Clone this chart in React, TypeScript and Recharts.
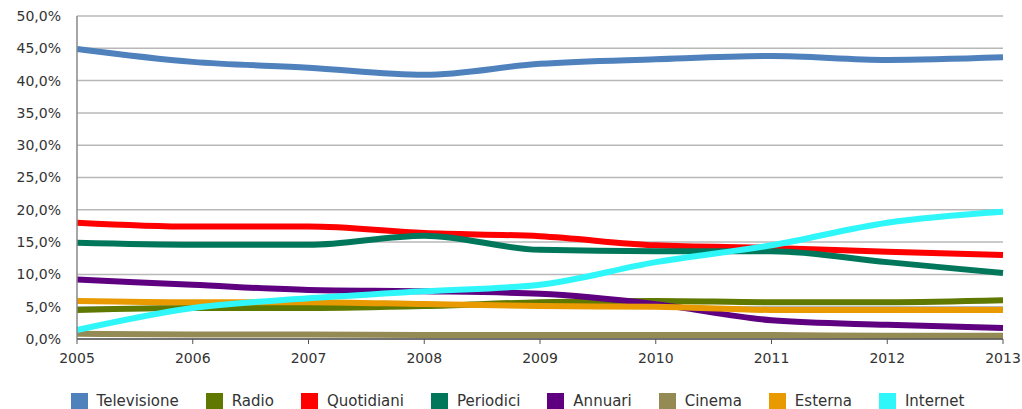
import { LineChart, Line, XAxis, YAxis, CartesianGrid, Legend } from 'recharts';

const years = ['2005', '2006', '2007', '2008', '2009', '2010', '2011', '2012', '2013'];

const televisione = [44.9, 42.9, 42.0, 40.9, 42.6, 43.3, 43.8, 43.2, 43.6];
const radio = [4.5, 4.8, 4.8, 5.1, 5.7, 5.9, 5.7, 5.7, 6.0];
const quotidiani = [18.0, 17.4, 17.4, 16.4, 15.9, 14.5, 14.1, 13.5, 13.0];
const periodici = [14.9, 14.6, 14.6, 16.0, 13.8, 13.6, 13.6, 11.9, 10.2];
const annuari = [9.2, 8.4, 7.6, 7.4, 7.0, 5.4, 2.9, 2.2, 1.7];
const cinema = [0.8, 0.7, 0.7, 0.6, 0.6, 0.6, 0.6, 0.5, 0.5];
const esterna = [5.9, 5.7, 5.7, 5.4, 5.1, 5.0, 4.5, 4.5, 4.5];
const internet = [1.4, 4.8, 6.3, 7.4, 8.4, 11.9, 14.5, 18.0, 19.7];

const yTicks = [0, 5, 10, 15, 20, 25, 30, 35, 40, 45, 50];

const series = [
    { key: 'Televisione', values: televisione, color: '#4F81BD' },
    { key: 'Radio', values: radio, color: '#5F7800' },
    { key: 'Quotidiani', values: quotidiani, color: '#FF0000' },
    { key: 'Periodici', values: periodici, color: '#00775A' },
    { key: 'Annuari', values: annuari, color: '#5E0080' },
    { key: 'Cinema', values: cinema, color: '#948A54' },
    { key: 'Esterna', values: esterna, color: '#E99A00' },
    { key: 'Internet', values: internet, color: '#2FF7F9' },
];

const data = years.map((year, i) => {
    const row: Record<string, string | number> = { year };
    series.forEach((s) => {
        row[s.key] = s.values[i];
    });
    return row;
});

const fmt = (v: number) => `${v.toFixed(1).replace('.', ',')}%`;

function LegendContent() {
    return (
        <div style={{ display: 'flex', justifyContent: 'center', gap: 27, fontSize: 15, color: '#333', paddingLeft: 32, marginTop: 13 }}>
            {series.map((s) => (
                <div key={s.key} style={{ display: 'flex', alignItems: 'center', gap: 9 }}>
                    <span style={{ width: 17, height: 17, background: s.color, display: 'inline-block' }} />
                    <span>{s.key}</span>
                </div>
            ))}
        </div>
    );
}

export default function App() {
    return (
        <div style={{ position: 'absolute', left: 0, top: 0, width: 1022, height: 409, background: '#fff', fontFamily: '"DejaVu Sans", Verdana, sans-serif' }}>
            <LineChart width={1022} height={409} data={data} margin={{ top: 16, right: 19, left: 0, bottom: 0 }}>
                <CartesianGrid vertical={false} stroke="#b8b8b8" strokeWidth={1.5} />
                <XAxis
                    dataKey="year"
                    height={40}
                    tick={{ fill: '#333', fontSize: 14 }}
                    tickMargin={9}
                    axisLine={{ stroke: '#555', strokeWidth: 1.5 }}
                    tickLine={{ stroke: '#555' }}
                    tickSize={5}
                    padding={{ left: 0, right: 0 }}
                    interval={0}
                />
                <YAxis
                    width={77}
                    domain={[0, 50]}
                    ticks={yTicks}
                    tickFormatter={fmt}
                    tick={{ fill: '#333', fontSize: 14 }}
                    axisLine={{ stroke: '#888', strokeWidth: 1.5 }}
                    tickLine={false}
                    tickMargin={10}
                    interval={0}
                />
                <Legend verticalAlign="bottom" height={30} content={<LegendContent />} />
                {series.map((s) => (
                    <Line
                        key={s.key}
                        dataKey={s.key}
                        type="monotone"
                        stroke={s.color}
                        strokeWidth={6}
                        dot={false}
                        activeDot={false}
                        isAnimationActive={false}
                    />
                ))}
            </LineChart>
        </div>
    );
}
